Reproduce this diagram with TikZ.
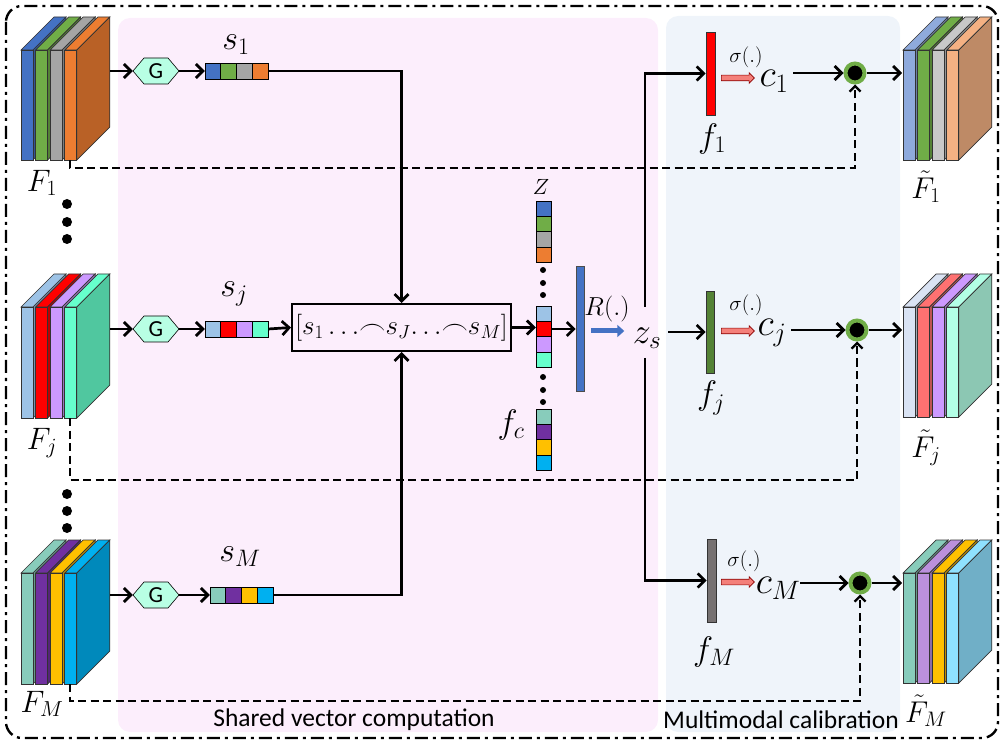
\RequirePackage{fix-cm}
\documentclass[tikz,border=0pt]{standalone}
\usepackage{fontspec}
\newfontfamily\carlito{Carlito}
\usetikzlibrary{arrows.meta,shapes.arrows}
\definecolor{pinkbg}{HTML}{FCEEFC}
\definecolor{bluebg}{HTML}{EFF4FA}
\definecolor{cBlue}{HTML}{4472C4}
\definecolor{cGreen}{HTML}{70AD47}
\definecolor{cGray}{HTML}{A5A5A5}
\definecolor{cOrange}{HTML}{ED7D31}
\definecolor{cLBlue}{HTML}{9DC3E6}
\definecolor{cRed}{HTML}{FF0000}
\definecolor{cLav}{HTML}{CC99FF}
\definecolor{cAqua}{HTML}{66FFCC}
\definecolor{cTeal}{HTML}{88CCBB}
\definecolor{cPurple}{HTML}{7030A0}
\definecolor{cGold}{HTML}{FFC000}
\definecolor{cCyan}{HTML}{00B0F0}
\definecolor{hexfill}{HTML}{B8FFE4}
\definecolor{fjgreen}{HTML}{548235}
\definecolor{fmgray}{HTML}{767171}
\definecolor{salmon}{HTML}{F4807A}
\definecolor{tBlue}{HTML}{8FAADC}
\definecolor{tGray}{HTML}{C8C8C8}
\definecolor{tOrange}{HTML}{F4B183}
\definecolor{tLBlue}{HTML}{DAE3F3}
\definecolor{tRed}{HTML}{FF7171}
\definecolor{tMint}{HTML}{B3FFE6}
\definecolor{tPurple}{HTML}{BB90DD}
\definecolor{tCyan}{HTML}{8FE1FF}
% one slab: x0, ytop, ybot, front colour, side colour
\newcommand{\fslab}[5]{%
  \filldraw[slab,fill=#4] (#1,#2) -- ++(33,-33) -- ++(12,0) -- ++(-33,33) -- cycle;
  \filldraw[slab,fill=#5] (#1+12,#2) -- ++(33,-33) -- ++(0,#3-#2) -- ++(-33,33) -- cycle;
  \filldraw[slab,fill=#4] (#1,#2) rectangle (#1+12,#3);
}
% stack of four slabs
\newcommand{\fstack}[7]{%
  \fslab{#1}{#2}{#3}{#4}{#4!75!black}
  \fslab{#1+14.6}{#2}{#3}{#5}{#5!75!black}
  \fslab{#1+29.2}{#2}{#3}{#6}{#6!75!black}
  \fslab{#1+43.8}{#2}{#3}{#7}{#7!78!black}
}
% hexagon G: name, x, y
\newcommand{\hexG}[3]{%
  \filldraw[fill=hexfill,line width=0.6pt] (#2-23,#3) -- (#2-12,#3-13) -- (#2+12,#3-13) -- (#2+23,#3) -- (#2+12,#3+13) -- (#2-12,#3+13) -- cycle;
  \node[gtext] (#1) at (#2,#3) {G};
}
% horizontal vector: name, xleft, yc, colours
\newcommand{\svec}[7]{%
  \foreach \cc [count=\i from 0] in {#4,#5,#6,#7} {\filldraw[cell,fill=\cc] (#2+\i*15.75,#3-8) rectangle ++(15.75,16);}
  \node[inner sep=0,minimum width=63,minimum height=16] (#1) at (#2+31.5,#3) {};
}
% vertical vector: name, ytop, colours
\newcommand{\zvec}[6]{%
  \foreach \cc [count=\i from 0] in {#3,#4,#5,#6} {\filldraw[cell,fill=\cc] (536,#2+\i*15.3) rectangle ++(15,15.3);}
  \node[inner sep=0,minimum width=15,minimum height=61.2] (#1) at (543.5,#2+30.6) {};
}
\begin{document}
\begin{tikzpicture}[x=1pt,y=-1pt,
  slab/.style={draw=black!80,line width=0.7pt},
  cell/.style={draw=black,line width=0.7pt},
  gtext/.style={inner sep=0,minimum width=46,minimum height=26,font=\carlito\fontsize{23}{23}\selectfont},
  arr/.style={line width=2.7pt,-{Straight Barb[length=7pt,width=14pt]}},
  dasharr/.style={line width=2.3pt,dash pattern=on 8pt off 4.5pt,-{Straight Barb[length=5.5pt,width=11pt]}},
  bar/.style={draw=black!80,line width=0.7pt,inner sep=0,minimum width=9,minimum height=83},
  odot/.style={circle,fill=black,draw=cGreen,line width=4pt,minimum size=19,inner sep=0},
  sarr/.style={single arrow,draw=red!55!black,fill=salmon,line width=0.6pt,minimum height=33,inner sep=0,inner ysep=2.5pt,single arrow head extend=2.5pt},
  lab/.style={inner sep=0}
]
\useasboundingbox (0,0) rectangle (1005,746);
% backgrounds
\fill[pinkbg,rounded corners=12pt] (118,18) rectangle (658,732);
\fill[bluebg,rounded corners=12pt] (666,16) rectangle (900,732);
\draw[line width=2.4pt,dash pattern=on 13pt off 5pt on 3pt off 5pt,rounded corners=16pt] (6,6) rectangle (998,738);
% input stacks
\fstack{21}{50}{160}{cBlue}{cGreen}{cGray}{cOrange}
\fstack{21}{307}{418}{cLBlue}{cRed}{cLav}{cAqua}
\fstack{21}{573}{684}{cTeal}{cPurple}{cGold}{cCyan}
\coordinate (F1out) at (110,71);
\coordinate (Fjout) at (110,329);
\coordinate (FMout) at (110,595);
\coordinate (F1bot) at (70,160);
\coordinate (Fjbot) at (70,418);
\coordinate (FMbot) at (70,684);
\node[lab,font=\fontsize{31}{33}\selectfont] (F1lab) at (42,183) {$F_1$};
\node[lab,font=\fontsize{31}{33}\selectfont] (Fjlab) at (42,443) {$F_j$};
\node[lab,font=\fontsize{31}{33}\selectfont] (FMlab) at (42,704) {$F_M$};
\foreach \yy in {204,222,239,494,511,528} \fill (67,\yy) circle (5);
% output stacks
\fstack{903}{50}{160}{tBlue}{cGreen}{tGray}{tOrange}
\fstack{903}{307}{417}{tLBlue}{tRed}{cLav}{tMint}
\fstack{903}{573}{683}{cTeal}{tPurple}{cGold}{tCyan}
\coordinate (Ft1in) at (902,73);
\coordinate (Ftjin) at (902,330);
\coordinate (FtMin) at (902,583);
\node[lab,font=\fontsize{30}{32}\selectfont] (Ft1lab) at (926,187) {$\tilde F_1$};
\node[lab,font=\fontsize{30}{32}\selectfont] (Ftjlab) at (926,448) {$\tilde F_j$};
\node[lab,font=\fontsize{30}{32}\selectfont] (FtMlab) at (926,711) {$\tilde F_M$};
% G and s
\hexG{G1}{156}{71}
\hexG{Gj}{156}{329}
\hexG{GM}{156}{595}
\svec{s1}{205}{71}{cBlue}{cGreen}{cGray}{cOrange}
\svec{sj}{205}{329}{cLBlue}{cRed}{cLav}{cAqua}
\svec{sM}{210}{595}{cTeal}{cPurple}{cGold}{cCyan}
\node[lab,font=\fontsize{34}{36}\selectfont] (s1lab) at (236,45) {$s_1$};
\node[lab,font=\fontsize{34}{36}\selectfont] (sjlab) at (234,294) {$s_j$};
\node[lab,font=\fontsize{34}{36}\selectfont] (sMlab) at (240,557) {$s_M$};
\draw[arr] (F1out) -- (G1.west);
\draw[arr] (Fjout) -- (Gj.west);
\draw[arr] (FMout) -- (GM.west);
\draw[arr] (G1.east) -- (s1.west);
\draw[arr] (Gj.east) -- (sj.west);
\draw[arr] (GM.east) -- (sM.west);
% concatenation
\node[draw,line width=2pt,minimum width=219,minimum height=47,inner sep=0,font=\fontsize{27}{29}\selectfont] (cat) at (401.5,327.5) {$[s_1\,{\ldots}{\frown} s_J {\ldots} {\frown} s_M]$};
\draw[arr] (s1.east) -| (cat.north);
\draw[arr] (sj.east) -- (cat.west);
\draw[arr] (sM.east) -| (cat.south);
% Z column
\zvec{ztop}{201}{cBlue}{cGreen}{cGray}{cOrange}
\zvec{zmid}{306}{cLBlue}{cRed}{cLav}{cAqua}
\zvec{zbot}{409}{cTeal}{cPurple}{cGold}{cCyan}
\foreach \yy in {270,283,295,377,390,402} \fill (543,\yy) circle (3);
\node[lab,font=\fontsize{22}{24}\selectfont] (Zlab) at (541,187) {$Z$};
\node[lab,font=\fontsize{34}{36}\selectfont] (fclab) at (511,425) {$f_c$};
\draw[arr] (cat.east) -- (cat.east -| zmid.west);
\coordinate (zred) at (551,329);
\node[fill=cBlue,draw=black!70,line width=0.6pt,minimum width=8,minimum height=125,inner sep=0] (Rbar) at (580,328.5) {};
\draw[arr] (zred) -- (zred -| Rbar.west);
\node[lab,font=\fontsize{26}{28}\selectfont] (Rlab) at (607,309) {$R(.)$};
\draw[line width=5pt,cBlue,-{Triangle[length=7pt,width=12pt]}] (Rbar.east) ++(7,2.5) -- ++(33,0);
\node[lab,font=\fontsize{36}{38}\selectfont] (zs) at (647,338) {$z_s$};
\coordinate (zsT) at (645,307);
\coordinate (zsB) at (645,358);
\coordinate (zsR) at (668,332);
% calibration bars
\node[bar,fill=cRed] (f1) at (710.5,73.5) {};
\node[bar,fill=fjgreen,minimum width=8,minimum height=82] (fj) at (710,332) {};
\node[bar,fill=fmgray] (fM) at (711.5,580.5) {};
\draw[arr] (zsT) |- (f1.west);
\draw[arr] (zsB) |- (fM.west);
\draw[arr] (zsR) -- (fj.west);
\node[lab,font=\fontsize{34}{36}\selectfont] (f1lab) at (712,139) {$f_1$};
\node[lab,font=\fontsize{34}{36}\selectfont] (fjlab) at (711,398) {$f_j$};
\node[lab,font=\fontsize{34}{36}\selectfont] (fMlab) at (714,652) {$f_M$};
\node[lab,font=\fontsize{21}{23}\selectfont] (sg1) at (746,57) {$\sigma(.)$};
\node[lab,font=\fontsize{21}{23}\selectfont] (sgj) at (746,305) {$\sigma(.)$};
\node[lab,font=\fontsize{21}{23}\selectfont] (sgM) at (744,561) {$\sigma(.)$};
\node[sarr] (a1) at (736.5,78) {};
\node[sarr] (aj) at (736.5,331) {};
\node[sarr] (aM) at (736.5,582) {};
\node[lab,font=\fontsize{38}{40}\selectfont] (c1) at (774,81) {$c_1$};
\node[lab,font=\fontsize{38}{40}\selectfont] (cj) at (772,333) {$c_j$};
\node[lab,font=\fontsize{38}{40}\selectfont] (cM) at (778,588) {$c_M$};
\coordinate (c1r) at (793,73);
\coordinate (cjr) at (791,330);
\coordinate (cMr) at (800,583);
\node[odot] (o1) at (855,73) {};
\node[odot] (oj) at (857,330) {};
\node[odot] (oM) at (860,583) {};
\draw[arr] (c1r) -- (o1.west);
\draw[arr] (cjr) -- (oj.west);
\draw[arr] (cMr) -- (oM.west);
\draw[arr] (o1.east) -- (Ft1in);
\draw[arr] (oj.east) -- (Ftjin);
\draw[arr] (oM.east) -- (FtMin);
% dashed skip connections
\draw[dasharr] (F1bot) -- ++(0,8) -| (o1.south);
\draw[dasharr] (Fjbot) -- ++(0,62) -| (oj.south);
\draw[dasharr] (FMbot) -- ++(0,17) -| (oM.south);
% region labels
\node[lab,font=\carlito\fontsize{25.5}{26}\selectfont] (lshared) at (354,720) {Shared vector computation};
\node[lab,font=\carlito\fontsize{25.5}{26}\selectfont] (lmulti) at (781,720) {Multimodal calibration};
\end{tikzpicture}
\end{document}
